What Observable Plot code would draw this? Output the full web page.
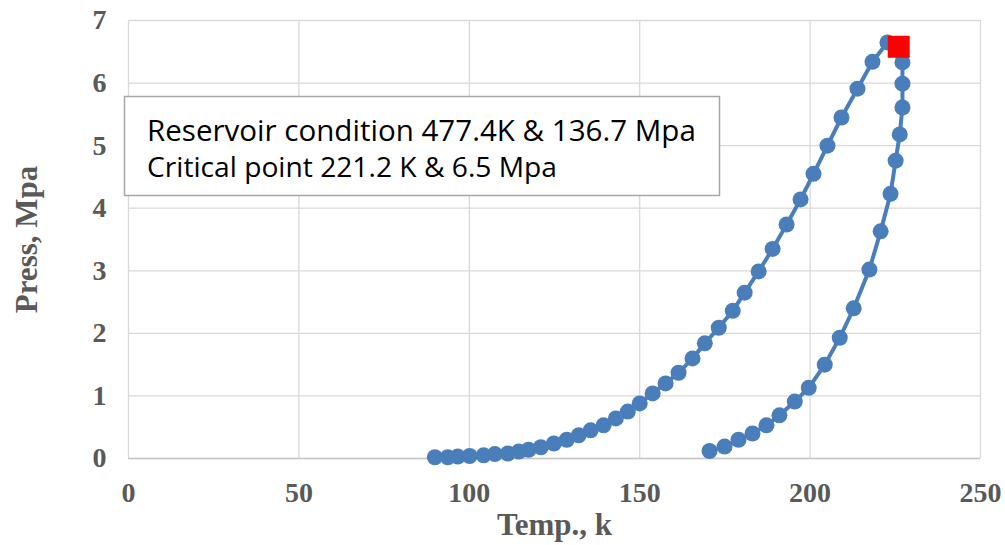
<!DOCTYPE html>
<html>
<head>
<meta charset="utf-8">
<script src="https://cdn.jsdelivr.net/npm/d3@7"></script>
<script src="https://cdn.jsdelivr.net/npm/@observablehq/plot@0.6"></script>
<style>
  html, body { margin: 0; padding: 0; background: #ffffff; }
  #chart { width: 1005px; height: 545px; }
</style>
</head>
<body>
<div id="chart"></div>
<script>
// Phase envelope: bubble branch (rising) followed by dew branch (falling)
const temperature = [
  89.9, 93.7, 96.6, 100.1, 104.2, 107.5, 111.3, 114.5, 117.4, 121.0,
  124.8, 128.6, 132.1, 135.6, 139.4, 143.0, 146.5, 150.0, 153.8, 157.6,
  161.4, 165.5, 169.1, 173.2, 177.3, 180.8, 184.9, 189.0, 193.1, 197.2,
  201.0, 205.1, 209.2, 213.9, 218.3, 222.7,
  227.1, 227.1, 227.1, 226.3, 225.1, 223.6, 220.7, 217.4, 212.8, 208.7,
  204.3, 199.6, 195.5, 191.0, 187.2, 183.1, 179.0, 174.9, 170.5
];
const pressure = [
  0.02, 0.02, 0.03, 0.04, 0.05, 0.07, 0.08, 0.11, 0.14, 0.18,
  0.24, 0.30, 0.37, 0.45, 0.53, 0.64, 0.75, 0.88, 1.04, 1.20,
  1.37, 1.60, 1.84, 2.09, 2.36, 2.65, 2.99, 3.35, 3.74, 4.14,
  4.55, 5.00, 5.45, 5.91, 6.34, 6.65,
  6.33, 5.99, 5.61, 5.18, 4.76, 4.23, 3.63, 3.02, 2.40, 1.93,
  1.50, 1.13, 0.91, 0.69, 0.53, 0.40, 0.30, 0.19, 0.12
];
const criticalT = [226.0];
const criticalP = [6.58];

const xTicks = [0, 50, 100, 150, 200, 250];
const yTicks = [0, 1, 2, 3, 4, 5, 6, 7];
const xTitle = "Temp., k";
const yTitle = "Press, Mpa";
const boxLines = [
  "Reservoir condition 477.4K & 136.7 Mpa",
  "Critical point 221.2 K & 6.5 Mpa"
];

const envelope = temperature.map((t, i) => ({T: t, P: pressure[i]}));
const critical = criticalT.map((t, i) => ({T: t, P: criticalP[i]}));

const blue = "#4a7ebb";
const gray = "#595959";

const plot = Plot.plot({
  width: 1005,
  height: 545,
  marginLeft: 128,
  marginRight: 25,
  marginTop: 20,
  marginBottom: 87,
  style: {fontFamily: "'Liberation Serif', 'Times New Roman', serif", fontWeight: "bold", color: gray, background: "#ffffff"},
  x: {domain: [0, 250]},
  y: {domain: [0, 7]},
  marks: [
    Plot.gridX(xTicks, {stroke: "#d9d9d9", strokeOpacity: 1, strokeWidth: 1.3}),
    Plot.gridY(yTicks, {stroke: "#d9d9d9", strokeOpacity: 1, strokeWidth: 1.3}),
    Plot.ruleY([0], {stroke: "#c8c8c8", strokeWidth: 1.5}),
    Plot.axisX(xTicks, {tickSize: 0, tickPadding: 24, fontSize: 28, fill: gray, label: null, tickFormat: d => String(d)}),
    Plot.axisY(yTicks, {tickSize: 0, tickPadding: 22, fontSize: 28, fill: gray, label: null, tickFormat: d => String(d)}),
    Plot.text([xTitle], {frameAnchor: "bottom", dy: 67, lineAnchor: "middle", textAnchor: "middle", fontSize: 31, fill: gray, fontWeight: "bold"}),
    Plot.text([yTitle], {frameAnchor: "left", dx: -101, rotate: -90, textAnchor: "middle", lineAnchor: "middle", fontSize: 31, fill: gray, fontWeight: "bold"}),
    Plot.line(envelope, {x: "T", y: "P", stroke: blue, strokeWidth: 4}),
    Plot.dot(envelope, {x: "T", y: "P", r: 8, fill: blue, stroke: "none"}),
    Plot.dot(critical, {x: "T", y: "P", symbol: "square", r: 12.4, fill: "#ff0000", stroke: "none"})
  ]
});

document.getElementById("chart").appendChild(plot);

// Annotation box
const svg = d3.select(plot);
const g = svg.append("g");
g.append("rect")
  .attr("x", 124.5).attr("y", 96.5)
  .attr("width", 595).attr("height", 99)
  .attr("fill", "#ffffff")
  .attr("stroke", "#a6a6a6")
  .attr("stroke-width", 1.5);
const targetWidths = [549, 410];
const ys = [131, 167];
boxLines.forEach((s, i) => {
  const t = g.append("text")
    .attr("x", 147).attr("y", ys[i])
    .attr("dy", "0.35em")
    .attr("text-anchor", "start")
    .attr("fill", "#000000")
    .style("text-anchor", "start")
    .style("font-family", "'Open Sans', 'Noto Sans', sans-serif")
    .style("font-weight", "normal")
    .style("font-size", "22px")
    .text(s);
  const w = t.node().getComputedTextLength();
  if (w > 0) t.style("font-size", (22 * targetWidths[i] / w).toFixed(2) + "px");
});
</script>
</body>
</html>
